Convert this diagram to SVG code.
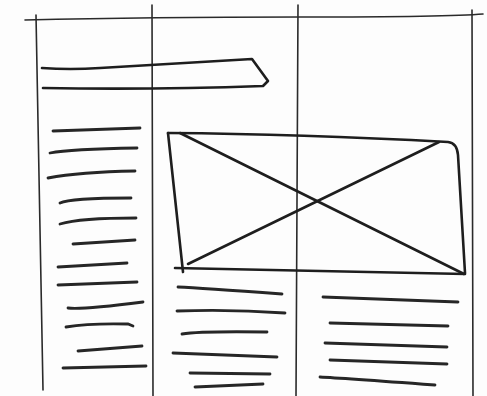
<svg xmlns="http://www.w3.org/2000/svg" width="487" height="396" viewBox="0 0 487 396">
<style>
.grid{fill:none;stroke:#2a2a2a;stroke-width:1.6;stroke-linecap:round}
.pen{fill:none;stroke:#1e1e1e;stroke-width:2.6;stroke-linecap:round;stroke-linejoin:round}
.ln{fill:none;stroke:#262626;stroke-width:2.8;stroke-linecap:round}
</style>
<rect width="487" height="396" fill="#fdfdfd"/>
<g id="grid">
<path class="grid" d="M25 20 Q150 17 300 17 T483 14" stroke="#555" stroke-width="2.8"/>
<path class="grid" d="M36 15 Q39 200 43 390" stroke-width="2"/>
<path class="grid" d="M152 5 L153 396"/>
<path class="grid" d="M298 5 Q297 200 296 396"/>
<path class="grid" d="M472 10 L473 396"/>
</g>
<g id="banner">
<path class="pen" d="M42 68 Q70 70 100 68 L252 59 L268 81 L263 86 Q150 90 43 88"/>
</g>
<g id="image">
<path class="pen" d="M168 133 Q300 134 448 142 Q457 143 458 155 Q462 220 465 273"/>
<path class="pen" d="M168 133 L183 272"/>
<path class="pen" d="M175 268 L465 274" stroke-width="3.4"/>
<path class="pen" d="M180 133 L464 274"/>
<path class="pen" d="M188 264 L439 142"/>
</g>
<g id="left-text">
<path class="ln" d="M53 131 L140 128"/>
<path class="ln" d="M50 153 Q70 149 137 148"/>
<path class="ln" d="M48 178 Q80 172 135 171"/>
<path class="ln" d="M60 203 Q70 198 131 198"/>
<path class="ln" d="M60 224 Q80 218 136 218"/>
<path class="ln" d="M73 244 L135 240"/>
<path class="ln" d="M58 267 L127 263"/>
<path class="ln" d="M58 285 L137 282"/>
<path class="ln" d="M68 308 Q80 310 143 302"/>
<path class="ln" d="M66 327 Q90 323 128 324 L133 326"/>
<path class="ln" d="M78 351 L142 346"/>
<path class="ln" d="M63 368 L146 366" stroke-width="3.2"/>
</g>
<g id="mid-text">
<path class="ln" d="M178 287 Q200 288 282 294"/>
<path class="ln" d="M177 311 Q230 309 285 313"/>
<path class="ln" d="M182 334 Q200 331 267 332"/>
<path class="ln" d="M173 353 L277 357"/>
<path class="ln" d="M190 373 L270 374"/>
<path class="ln" d="M195 387 L263 384"/>
</g>
<g id="right-text">
<path class="ln" d="M323 297 L458 302"/>
<path class="ln" d="M330 323 L448 326"/>
<path class="ln" d="M325 343 L447 347"/>
<path class="ln" d="M330 360 L447 364"/>
<path class="ln" d="M320 377 Q340 378 435 385"/>
</g>
</svg>
